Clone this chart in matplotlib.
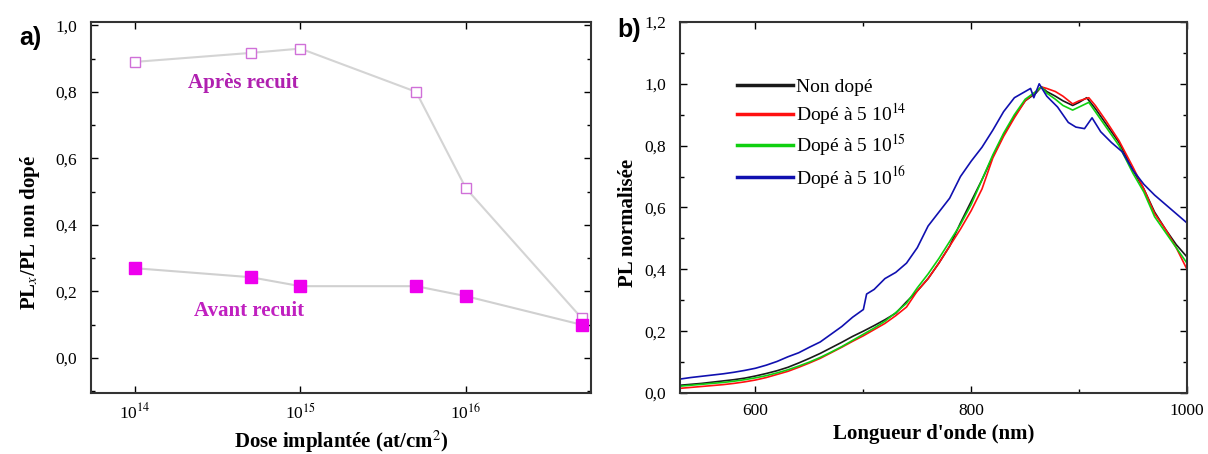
import matplotlib
matplotlib.use("Agg")
import matplotlib.pyplot as plt
from matplotlib.ticker import FixedLocator, MultipleLocator, FuncFormatter, NullLocator

plt.rcParams['font.family'] = ['Liberation Serif', 'DejaVu Serif']
plt.rcParams['mathtext.fontset'] = 'stix'

# ---------------- Panel a data ----------------
doses = [1e14, 5e14, 1e15, 5e15, 1e16, 5e16]
apres_recuit = [0.89, 0.917, 0.93, 0.80, 0.51, 0.12]
avant_recuit = [0.27, 0.243, 0.216, 0.216, 0.186, 0.10]
dose_ticks = [1e14, 1e15, 1e16]
dose_ticklabels = [r"10$^{14}$", r"10$^{15}$", r"10$^{16}$"]

# ---------------- Panel b data ----------------
wl_nondope = [530, 540, 550, 560, 570, 580, 590, 600, 610, 620, 630, 640, 650, 660, 670, 680,
              690, 700, 710, 720, 730, 740, 750, 760, 770, 780, 790, 800, 810, 820, 830, 840,
              850, 860, 865, 870, 878, 885, 894, 900, 907, 915, 925, 937, 950, 960, 970, 980,
              990, 1000]
pl_nondope = [0.025, 0.028, 0.031, 0.035, 0.039, 0.043, 0.048, 0.055, 0.063, 0.072, 0.083, 0.097,
              0.112, 0.128, 0.146, 0.164, 0.183, 0.200, 0.218, 0.237, 0.258, 0.295, 0.330, 0.370,
              0.420, 0.475, 0.550, 0.620, 0.690, 0.765, 0.835, 0.895, 0.945, 0.970, 0.990, 0.975,
              0.960, 0.945, 0.930, 0.940, 0.955, 0.920, 0.870, 0.810, 0.720, 0.660, 0.585, 0.530,
              0.480, 0.440]

wl_5e14 = [530, 540, 550, 560, 570, 580, 590, 600, 610, 620, 630, 640, 650, 660, 670, 680, 690,
           700, 710, 720, 730, 740, 750, 760, 770, 780, 790, 800, 810, 820, 830, 840, 850, 855,
           860, 865, 870, 878, 885, 894, 900, 909, 915, 925, 937, 950, 960, 970, 980, 990, 1000]
pl_5e14 = [0.015, 0.018, 0.021, 0.024, 0.027, 0.031, 0.036, 0.042, 0.050, 0.060, 0.070, 0.083,
           0.097, 0.112, 0.130, 0.148, 0.167, 0.185, 0.205, 0.225, 0.250, 0.278, 0.330, 0.370,
           0.420, 0.475, 0.530, 0.590, 0.660, 0.760, 0.830, 0.890, 0.945, 0.960, 0.975, 0.990,
           0.985, 0.975, 0.960, 0.935, 0.945, 0.955, 0.930, 0.880, 0.816, 0.730, 0.660, 0.580,
           0.530, 0.470, 0.400]

wl_5e15 = [530, 540, 550, 560, 570, 580, 590, 600, 610, 620, 630, 640, 650, 660, 670, 680, 690,
           700, 710, 720, 730, 740, 750, 760, 770, 780, 790, 800, 810, 820, 830, 840, 850, 860,
           865, 870, 878, 885, 894, 900, 909, 915, 925, 937, 950, 960, 970, 980, 990, 1000]
pl_5e15 = [0.022, 0.025, 0.028, 0.031, 0.034, 0.038, 0.043, 0.049, 0.056, 0.065, 0.075, 0.087,
           0.100, 0.115, 0.132, 0.150, 0.170, 0.190, 0.210, 0.232, 0.260, 0.290, 0.340, 0.385,
           0.435, 0.490, 0.545, 0.610, 0.690, 0.770, 0.840, 0.900, 0.950, 0.975, 0.990, 0.970,
           0.950, 0.930, 0.915, 0.925, 0.940, 0.910, 0.860, 0.800, 0.710, 0.650, 0.570, 0.520,
           0.470, 0.420]

wl_5e16 = [530, 540, 550, 560, 570, 580, 590, 600, 610, 620, 630, 640, 650, 660, 670, 680, 690,
           700, 703, 710, 720, 730, 740, 750, 760, 770, 780, 790, 800, 810, 820, 830, 840, 850,
           855, 858, 863, 870, 880, 890, 897, 905, 912, 920, 930, 940, 950, 960, 970, 980, 990,
           1000]
pl_5e16 = [0.045, 0.050, 0.054, 0.058, 0.062, 0.067, 0.073, 0.080, 0.090, 0.102, 0.117, 0.130,
           0.148, 0.165, 0.190, 0.215, 0.245, 0.270, 0.320, 0.335, 0.370, 0.390, 0.420, 0.470,
           0.540, 0.585, 0.630, 0.700, 0.750, 0.795, 0.850, 0.910, 0.955, 0.975, 0.985, 0.955,
           1.000, 0.960, 0.925, 0.875, 0.860, 0.855, 0.890, 0.845, 0.810, 0.780, 0.720, 0.675,
           0.640, 0.610, 0.580, 0.550]

series_labels = ["Non dopé", r"Dopé à 5 10$^{14}$", r"Dopé à 5 10$^{15}$", r"Dopé à 5 10$^{16}$"]

fig = plt.figure(figsize=(12.08, 4.54), dpi=100)

def comma_fmt(v, pos):
    return f"{v:.1f}".replace(".", ",")

LABEL_FS = 15

# ---------------- Panel a ----------------
ax1 = fig.add_axes([0.0753, 0.1344, 0.4139, 0.8172])
ax1.set_xscale('log')
ax1.plot(doses, apres_recuit, color='#d4d4d4', lw=1.5, zorder=1)
ax1.plot(doses, avant_recuit, color='#d0d0d0', lw=1.5, zorder=1)
ax1.plot(doses, apres_recuit, ls='none', marker='s', ms=7, mfc='white', mec='#d070d8', mew=1.0, zorder=3)
ax1.plot(doses, avant_recuit, ls='none', marker='s', ms=8, mfc='#ee00ee', mec='#ee00ee', zorder=3)
ax1.text(4.5e14, 0.827, "Après recuit", color='#b020b0', fontsize=15, fontweight='bold',
         ha='center', va='center')
ax1.text(4.9e14, 0.14, "Avant recuit", color='#c020c0', fontsize=15, fontweight='bold',
         ha='center', va='center')
ax1.set_xlim(10**13.735, 10**16.755)
ax1.set_ylim(-0.105, 1.01)
ax1.xaxis.set_major_locator(FixedLocator(dose_ticks))
ax1.set_xticklabels(dose_ticklabels)
ax1.xaxis.set_minor_locator(NullLocator())
ax1.yaxis.set_major_locator(MultipleLocator(0.2))
ax1.yaxis.set_minor_locator(MultipleLocator(0.1))
ax1.yaxis.set_major_formatter(FuncFormatter(comma_fmt))
ax1.set_xlabel("Dose implantée (at/cm$^2$)", fontsize=LABEL_FS, fontweight='bold', labelpad=4)
ax1.set_ylabel("PL$_x$/PL non dopé", fontsize=LABEL_FS, fontweight='bold')
ax1.yaxis.set_label_coords(-0.098, 0.434)
fig.text(0.016, 0.916, "a)", fontsize=18, fontweight='bold', family='Liberation Sans',
         va='center')

# ---------------- Panel b ----------------
ax2 = fig.add_axes([0.5629, 0.1344, 0.4197, 0.8172])
ax2.plot(wl_nondope, pl_nondope, color='#1a1a1a', lw=1.2, label=series_labels[0])
ax2.plot(wl_5e14, pl_5e14, color='#ff1010', lw=1.2, label=series_labels[1])
ax2.plot(wl_5e15, pl_5e15, color='#10d010', lw=1.2, label=series_labels[2])
ax2.plot(wl_5e16, pl_5e16, color='#1010b0', lw=1.2, label=series_labels[3])
ax2.set_xlim(530, 1000)
ax2.set_ylim(0, 1.2)
ax2.xaxis.set_major_locator(MultipleLocator(200))
ax2.xaxis.set_minor_locator(MultipleLocator(100))
ax2.yaxis.set_major_locator(MultipleLocator(0.2))
ax2.yaxis.set_minor_locator(MultipleLocator(0.1))
ax2.yaxis.set_major_formatter(FuncFormatter(comma_fmt))
ax2.set_xlabel("Longueur d'onde (nm)", fontsize=LABEL_FS, fontweight='bold', labelpad=4)
ax2.set_ylabel("PL normalisée", fontsize=LABEL_FS, fontweight='bold')
ax2.yaxis.set_label_coords(-0.083, 0.458)
leg = ax2.legend(loc='upper left', bbox_to_anchor=(0.093, 0.875), frameon=False, fontsize=14,
                 handlelength=2.9, handletextpad=0.15, labelspacing=0.28, borderpad=0)
for h in leg.get_lines():
    h.set_linewidth(2.5)
fig.text(0.511, 0.934, "b)", fontsize=18, fontweight='bold', family='Liberation Sans',
         va='center')

for ax in (ax1, ax2):
    for s in ax.spines.values():
        s.set_linewidth(1.5)
        s.set_color('#333333')
    ax.tick_params(which='both', direction='in', top=True, right=True, labelsize=12.5, width=1.0)
    ax.tick_params(which='major', length=5)
    ax.tick_params(which='minor', length=3)
    ax.tick_params(axis='y', which='major', pad=10)
    ax.tick_params(axis='x', which='major', pad=7)

fig.savefig("out.png", dpi=100)
